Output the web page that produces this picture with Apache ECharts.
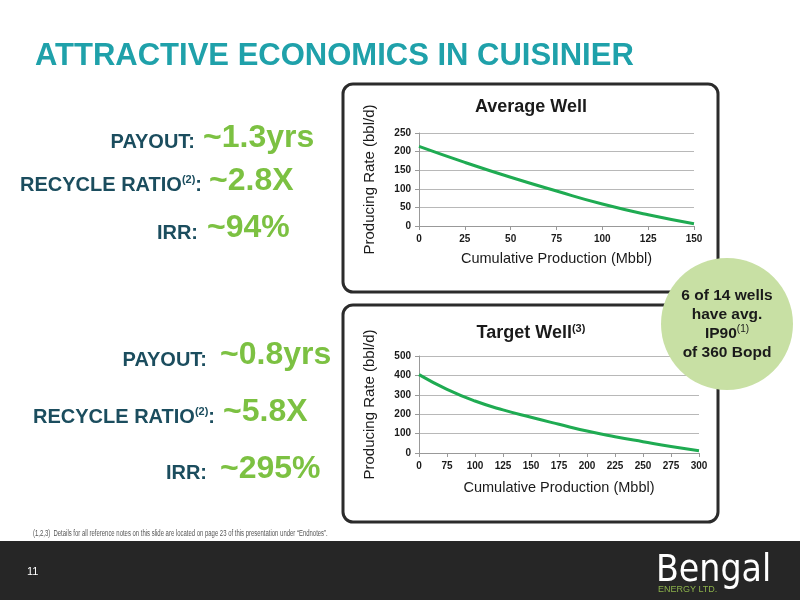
<!DOCTYPE html>
<html><head><meta charset="utf-8">
<script src="https://cdn.jsdelivr.net/npm/echarts@6/dist/echarts.min.js"></script>
<style>html,body{margin:0;padding:0;background:#fff}#c{width:800px;height:600px}</style>
</head><body><div id="c"></div>
<script>
const avgCategories = [0, 25, 50, 75, 100, 125, 150];
const avgRates = [214, 171, 131, 94, 59, 30, 6];
const avgYTicks = [0, 50, 100, 150, 200, 250];
const tgtCategories = ['0', '75', '100', '125', '150', '175', '200', '225', '250', '275', '300'];
const tgtRates = [404, 328, 268, 222, 184, 148, 113, 84, 58, 33, 12];
const tgtYTicks = [0, 100, 200, 300, 400, 500];

const F = '"Liberation Sans", Arial, sans-serif';
const chart = echarts.init(document.getElementById('c'));
const axisLabel = {fontFamily: F, fontWeight: 'bold', fontSize: 10, color: '#1a1a1a'};
function xAxis(idx, data, nameGap){
  return {gridIndex: idx, type: 'category', data: data, boundaryGap: false,
    name: 'Cumulative Production (Mbbl)', nameLocation: 'middle', nameGap: nameGap,
    nameTextStyle: {fontFamily: F, fontSize: 14.5, color: '#1a1a1a'},
    axisLine: {lineStyle: {color: '#999', width: 1}},
    axisTick: {show: true, alignWithLabel: true, length: 4, lineStyle: {color: '#999'}},
    axisLabel: Object.assign({margin: 8, interval: 0}, axisLabel), splitLine: {show: false}};
}
function yAxis(idx, ticks){
  return {gridIndex: idx, type: 'value', min: ticks[0], max: ticks[ticks.length-1], interval: ticks[1]-ticks[0],
    name: 'Producing Rate (bbl/d)', nameLocation: 'middle', nameGap: 42, nameRotate: 90,
    nameTextStyle: {fontFamily: F, fontSize: 15, color: '#1a1a1a'},
    axisLine: {show: true, lineStyle: {color: '#999'}},
    axisTick: {show: true, length: 4, lineStyle: {color: '#999'}},
    axisLabel: Object.assign({margin: 8}, axisLabel),
    splitLine: {lineStyle: {color: '#b8b8b8', width: 1}}};
}
function leftRow(label, sup, value, labelEnd, valueStart, ly, vy){
  const lab = {type: 'text', style: {text: sup ? '{a|' + label + '}{s|' + sup + '}{a|:}' : '{a|' + label + ':}',
    rich: {a: {fontFamily: F, fontWeight: 'bold', fontSize: 20, fill: '#1b4d5e'}, s: {fontFamily: F, fontWeight: 'bold', fontSize: 11, fill: '#1b4d5e', verticalAlign: 'top', padding: [0,0,10,0]}},
    x: labelEnd, y: ly, align: 'right', verticalAlign: 'middle'}};
  const val = {type: 'text', style: {text: value, fontFamily: F, fontWeight: 'bold', fontSize: 32, fill: '#7cc142',
    x: valueStart, y: vy, align: 'left', verticalAlign: 'middle'}};
  return [lab, val];
}
const graphics = [
  {type: 'rect', shape: {x: 343, y: 84, width: 375, height: 208, r: 10}, style: {fill: '#fff', stroke: '#2b2b2b', lineWidth: 3}, z: -10},
  {type: 'rect', shape: {x: 343, y: 305, width: 375, height: 217, r: 10}, style: {fill: '#fff', stroke: '#2b2b2b', lineWidth: 3}, z: -10},
  {type: 'text', style: {text: 'ATTRACTIVE ECONOMICS IN CUISINIER', fontFamily: F, fontWeight: 'bold', fontSize: 31, fill: '#1fa1aa', x: 35, y: 56, verticalAlign: 'middle'}},
  {type: 'text', style: {text: 'Average Well', fontFamily: F, fontWeight: 'bold', fontSize: 18, fill: '#1a1a1a', x: 531, y: 107, align: 'center', verticalAlign: 'middle'}},
  {type: 'text', style: {text: '{t|Target Well}{s|(3)}', rich: {t: {fontFamily: F, fontWeight: 'bold', fontSize: 18, fill: '#1a1a1a'}, s: {fontFamily: F, fontWeight: 'bold', fontSize: 11, fill: '#1a1a1a', verticalAlign: 'top', padding: [0,0,8,0]}}, x: 531, y: 333, align: 'center', verticalAlign: 'middle'}},
  {type: 'circle', shape: {cx: 727, cy: 324, r: 66}, style: {fill: '#c8e0a4'}, z: 50},
  {type: 'text', z: 51, style: {text: '{b|6 of 14 wells}\n{b|have avg.}\n{b|IP90}{s|(1)}\n{b|of 360 Bopd}', rich: {b: {fontFamily: F, fontWeight: 'bold', fontSize: 15.5, fill: '#1a1a1a', lineHeight: 19}, s: {fontFamily: F, fontSize: 10, fill: '#1a1a1a', verticalAlign: 'top', lineHeight: 19, padding: [0,0,6,0]}}, x: 727, y: 324, align: 'center', verticalAlign: 'middle'}},
  {type: 'text', x: 33, y: 534, scaleX: 0.7, style: {text: '(1,2,3)  Details for all reference notes on this slide are located on page 23 of this presentation under \u201cEndnotes\u201d.', fontFamily: F, fontSize: 8.5, fill: '#555', x: 0, y: 0, verticalAlign: 'middle'}},
  {type: 'rect', shape: {x: 0, y: 541, width: 800, height: 59}, style: {fill: '#262626'}},
  {type: 'text', style: {text: '11', fontFamily: F, fontSize: 11, fill: '#fff', x: 27, y: 572, verticalAlign: 'middle'}},
  {type: 'text', style: {text: 'Bengal', fontFamily: '"DejaVu Sans Condensed", "Liberation Sans Narrow", sans-serif', fontSize: 37, fill: '#fff', x: 656, y: 571, verticalAlign: 'middle'}},
  {type: 'text', style: {text: 'ENERGY LTD.', fontFamily: F, fontSize: 9, fill: '#8ab04a', x: 658, y: 590, verticalAlign: 'middle'}}
].concat(
  leftRow('PAYOUT', null, '~1.3yrs', 195, 203, 142, 138),
  leftRow('RECYCLE RATIO', '(2)', '~2.8X', 202, 209, 185, 181),
  leftRow('IRR', null, '~94%', 198, 207, 233, 228),
  leftRow('PAYOUT', null, '~0.8yrs', 207, 220, 360, 355),
  leftRow('RECYCLE RATIO', '(2)', '~5.8X', 215, 223, 417, 412),
  leftRow('IRR', null, '~295%', 207, 220, 473, 469)
);
chart.setOption({
  animation: false,
  grid: [
    {left: 419, top: 133, width: 275, height: 93},
    {left: 419, top: 356, width: 280, height: 97}
  ],
  xAxis: [xAxis(0, avgCategories, 25), xAxis(1, tgtCategories, 27)],
  yAxis: [yAxis(0, avgYTicks), yAxis(1, tgtYTicks)],
  series: [
    {type: 'line', xAxisIndex: 0, yAxisIndex: 0, data: avgRates, smooth: true, symbol: 'none', lineStyle: {color: '#1fab52', width: 3}},
    {type: 'line', xAxisIndex: 1, yAxisIndex: 1, data: tgtRates, smooth: true, symbol: 'none', lineStyle: {color: '#1fab52', width: 3}}
  ],
  graphic: graphics
});
</script></body></html>
